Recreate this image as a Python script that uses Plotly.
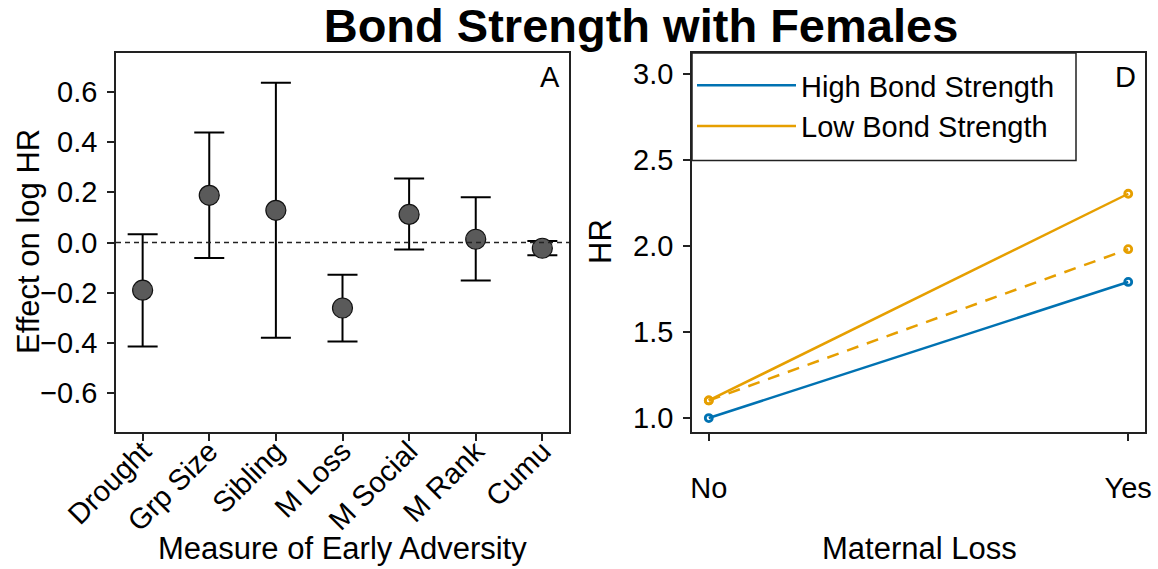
import plotly.graph_objects as go
from plotly.subplots import make_subplots

# ---- Panel A data ----
measures = ["Drought", "Grp Size", "Sibling", "M Loss", "M Social", "M Rank", "Cumu"]
effect = [-0.19, 0.188, 0.128, -0.261, 0.112, 0.013, -0.023]
ci_upper = [0.033, 0.438, 0.636, -0.128, 0.255, 0.180, 0.006]
ci_lower = [-0.414, -0.062, -0.379, -0.394, -0.028, -0.151, -0.051]

# ---- Panel D data ----
maternal_loss = ["No", "Yes"]
hr_high = [1.00, 1.79]
hr_low = [1.102, 2.302]
hr_low_dashed = [1.102, 1.98]

FONT = "Liberation Sans, Arial, Helvetica, sans-serif"
BLUE = "#0072B2"
ORANGE = "#E69F00"

W, H = 1158, 569
L, T = 116, 53
R = W - 1145
B = H - 432
pw = W - L - R
ph = H - T - B


def px(x):
    return (x - L) / pw


def py(y):
    return 1 - (y - T) / ph


fig = make_subplots(rows=1, cols=2, horizontal_spacing=0)

err_plus = [u - e for u, e in zip(ci_upper, effect)]
err_minus = [e - l for e, l in zip(effect, ci_lower)]

fig.add_trace(go.Scatter(
    x=measures, y=effect, mode="markers",
    marker=dict(size=20, color="#5a5a5a", line=dict(color="#111111", width=1.2)),
    error_y=dict(type="data", array=err_plus, arrayminus=err_minus,
                 color="black", thickness=2, width=15),
    showlegend=False), row=1, col=1)


def mk(color):
    return dict(symbol="circle-open", size=7, color=color, line=dict(color=color, width=2.8))


fig.add_trace(go.Scatter(
    x=maternal_loss, y=hr_low_dashed, mode="lines+markers",
    line=dict(color=ORANGE, width=2.5, dash="12px,9px"),
    marker=mk(ORANGE), showlegend=False), row=1, col=2)
fig.add_trace(go.Scatter(
    x=maternal_loss, y=hr_high, mode="lines", name="High Bond Strength",
    line=dict(color=BLUE, width=2.5)), row=1, col=2)
fig.add_trace(go.Scatter(
    x=maternal_loss, y=hr_low, mode="lines", name="Low Bond Strength",
    line=dict(color=ORANGE, width=2.5)), row=1, col=2)
fig.add_trace(go.Scatter(
    x=maternal_loss, y=hr_high, mode="markers", showlegend=False,
    marker=mk(BLUE)), row=1, col=2)
fig.add_trace(go.Scatter(
    x=maternal_loss, y=hr_low, mode="markers", showlegend=False,
    marker=mk(ORANGE)), row=1, col=2)

axis_common = dict(showline=True, linecolor="#222222", linewidth=1.5, mirror=True,
                   ticks="outside", ticklen=7, tickwidth=1.5, tickcolor="#222222",
                   showgrid=False, zeroline=False,
                   tickfont=dict(size=29, color="black", family=FONT))

fig.update_xaxes(axis_common)
fig.update_yaxes(axis_common)

fig.update_xaxes(domain=[0, px(569)], type="category", range=[-0.4, 6.4],
                 tickangle=-45, ticklabelstandoff=-18, row=1, col=1)
fig.update_yaxes(range=[-0.755, 0.755], tickvals=[-0.6, -0.4, -0.2, 0, 0.2, 0.4, 0.6],
                 tickformat=".1f", ticklabelstandoff=4, row=1, col=1)
fig.update_xaxes(domain=[px(692), 1], type="category", range=[-0.04, 1.04],
                 ticklabelstandoff=22, row=1, col=2)
fig.update_yaxes(range=[0.919, 3.119], tickvals=[1.0, 1.5, 2.0, 2.5, 3.0], tickformat=".1f",
                 ticklabelstandoff=4, row=1, col=2)

# zero reference line in panel A
fig.add_shape(type="line", xref="x domain", yref="y", x0=0, x1=1, y0=0, y1=0,
              line=dict(color="#222222", width=1.5, dash="5px,4px"))

# legend frame (box drawn to the reference's size; legend entries drawn by plotly)
fig.add_shape(type="rect", xref="paper", yref="paper",
              x0=px(692), x1=px(1076), y0=py(160.5), y1=py(53),
              line=dict(color="#222222", width=1.5), fillcolor="white", layer="above")

tfont = dict(size=31, family=FONT, color="black")
fig.add_annotation(text="Effect on log HR", xref="paper", yref="paper", x=px(28), y=py(242),
                   textangle=-90, showarrow=False, font=tfont, xanchor="center", yanchor="middle")
fig.add_annotation(text="Measure of Early Adversity", xref="paper", yref="paper", x=px(342), y=py(548),
                   showarrow=False, font=tfont, xanchor="center", yanchor="middle")
fig.add_annotation(text="HR", xref="paper", yref="paper", x=px(600), y=py(242),
                   textangle=-90, showarrow=False, font=tfont, xanchor="center", yanchor="middle")
fig.add_annotation(text="Maternal Loss", xref="paper", yref="paper", x=px(919), y=py(548),
                   showarrow=False, font=tfont, xanchor="center", yanchor="middle")

fig.add_annotation(text="A", xref="x domain", yref="y domain", x=0.985, y=0.985,
                   xanchor="right", yanchor="top", showarrow=False,
                   font=dict(size=29, family=FONT, color="black"))
fig.add_annotation(text="D", xref="x2 domain", yref="y2 domain", x=0.985, y=0.985,
                   xanchor="right", yanchor="top", showarrow=False,
                   font=dict(size=29, family=FONT, color="black"))

fig.update_layout(
    width=W, height=H,
    margin=dict(l=L, r=R, t=T, b=B, autoexpand=False),
    paper_bgcolor="white", plot_bgcolor="white",
    font=dict(family=FONT, color="black"),
    title=dict(text="<b>Bond Strength with Females</b>", x=641 / W, xanchor="center",
               y=1 - 26 / H, yanchor="middle", xref="container", yref="container",
               font=dict(size=47, family=FONT, color="black")),
    legend=dict(x=px(692), y=py(60), xanchor="left", yanchor="top",
                bgcolor="rgba(0,0,0,0)", borderwidth=0,
                font=dict(size=29, family=FONT, color="black"),
                itemwidth=99, tracegroupgap=0),
)

# remove the browser's default page margin so the figure sits at the window's corner
fig.write_html("out.html",
               config={"displayModeBar": False},
               post_script="document.body.style.margin='0';document.body.style.overflow='hidden';")
